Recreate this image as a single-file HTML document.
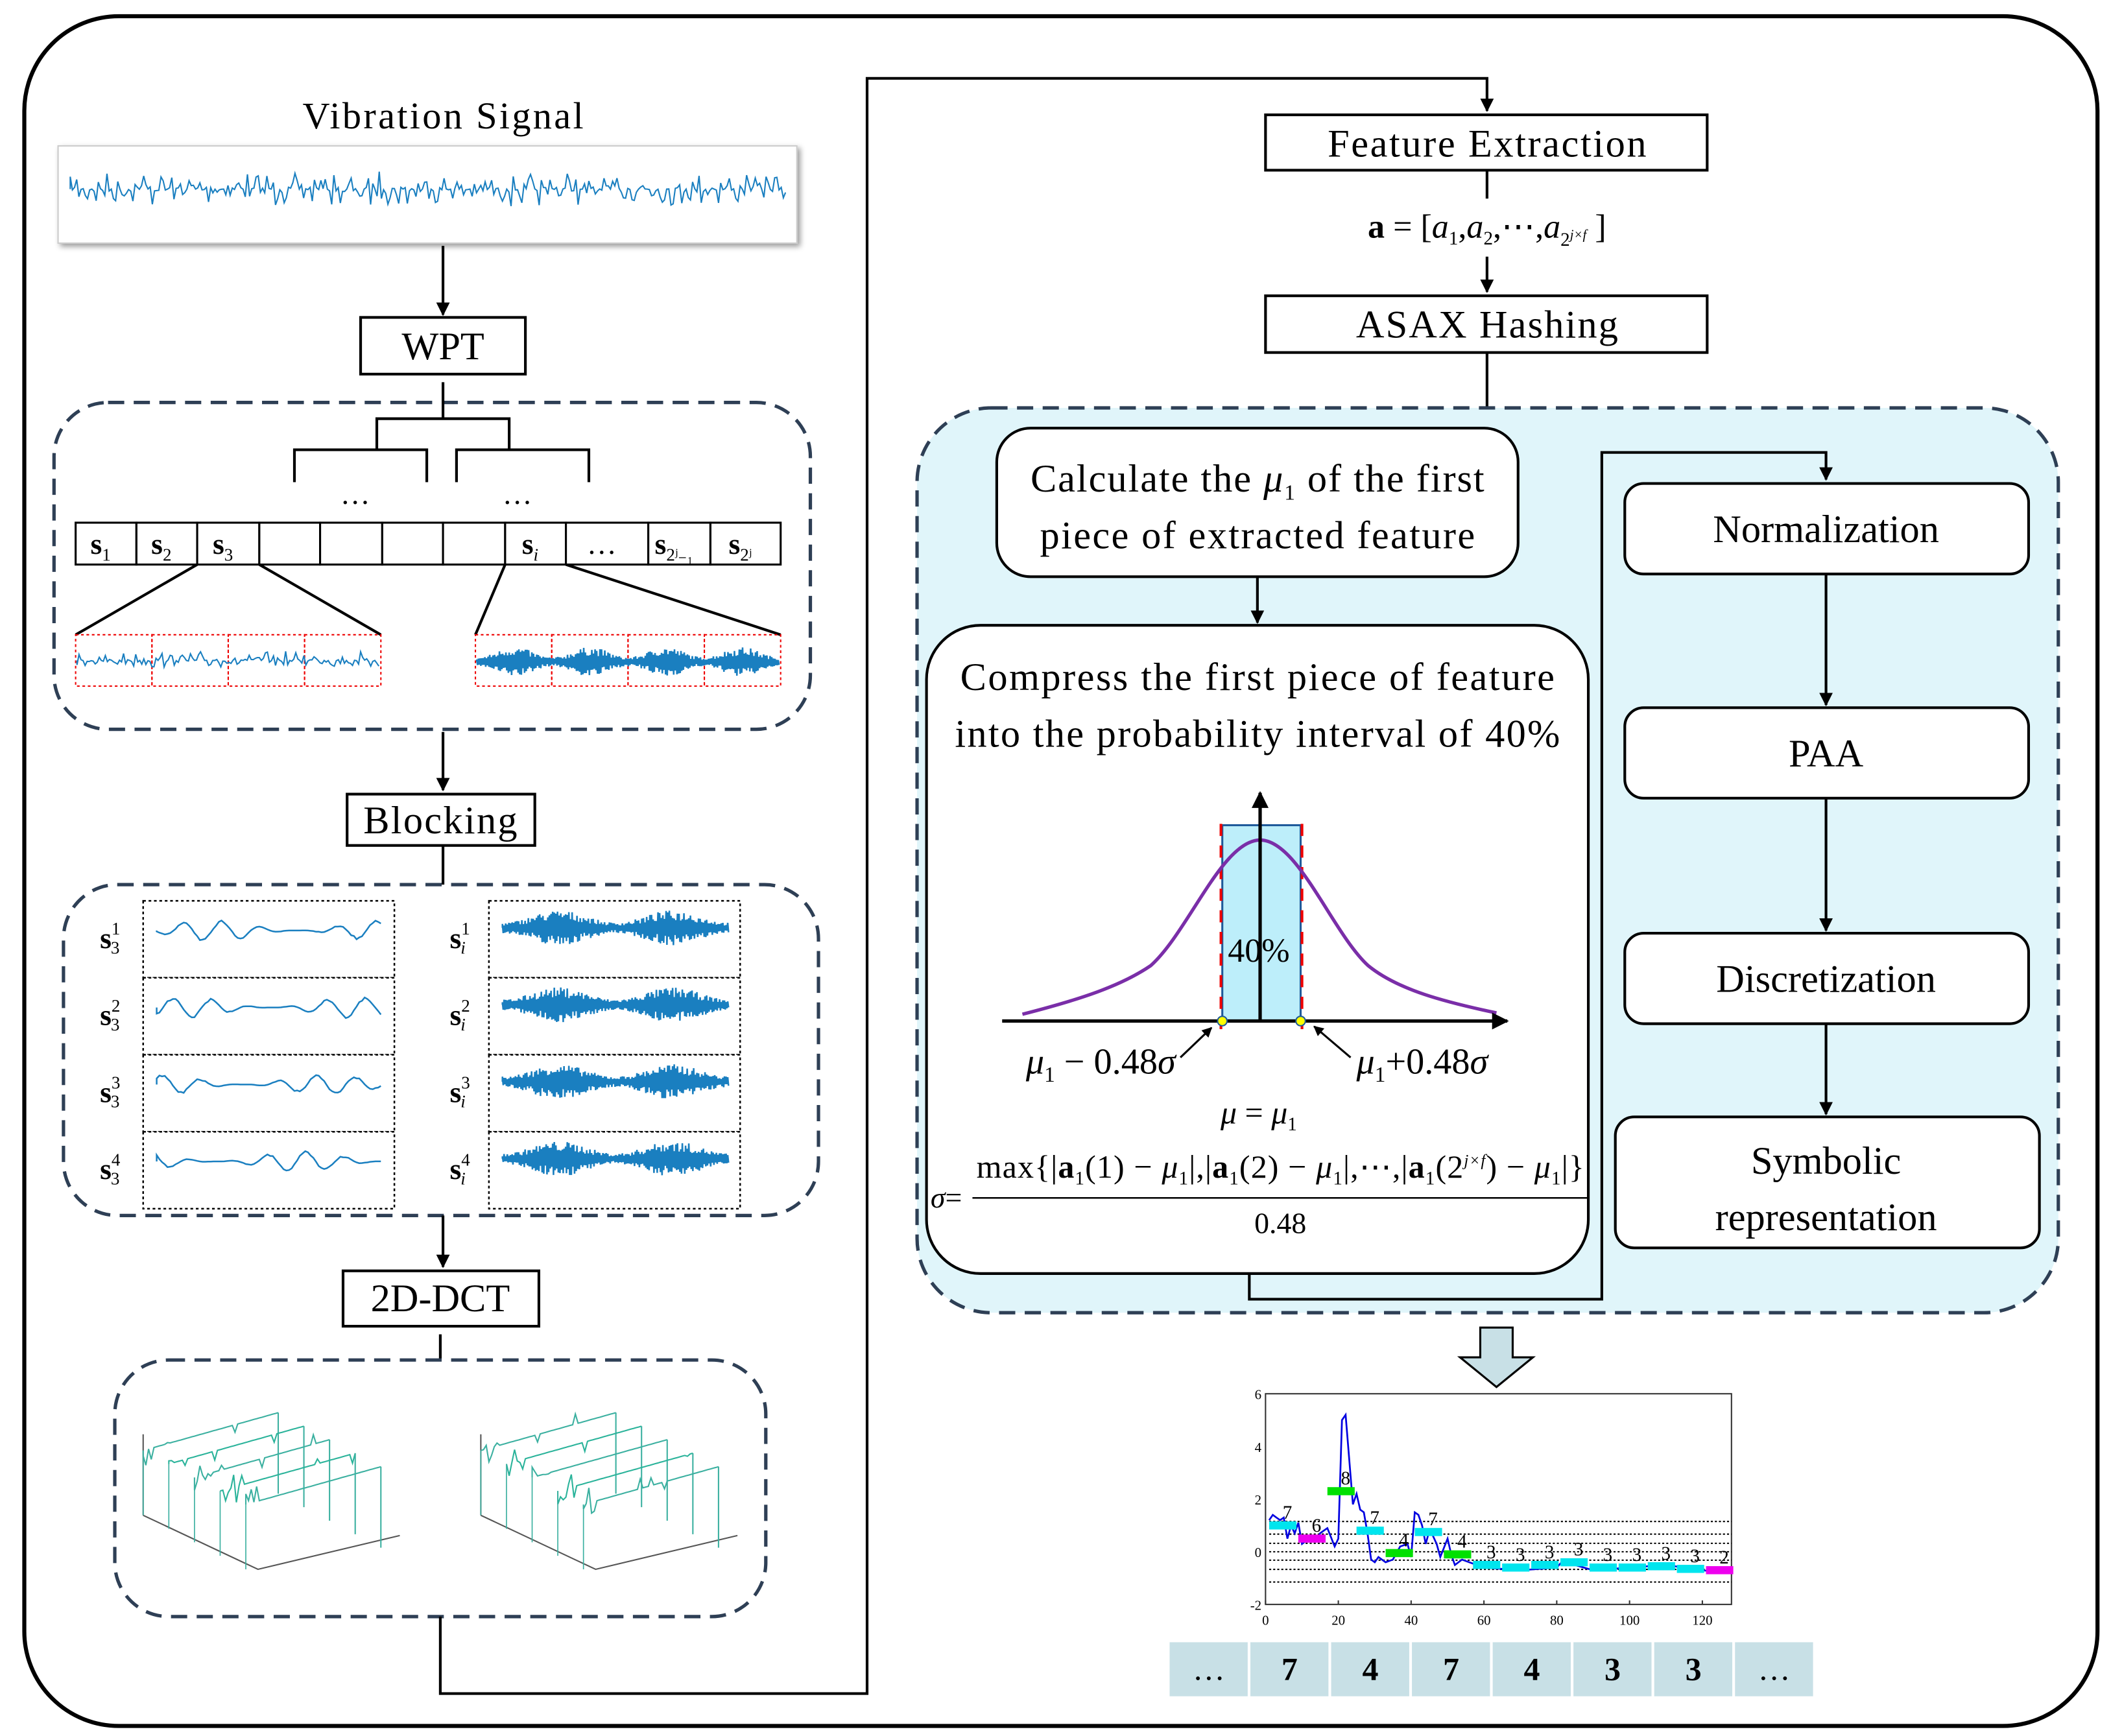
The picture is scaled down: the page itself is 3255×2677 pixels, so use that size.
<!DOCTYPE html>
<html><head><meta charset="utf-8"><style>
html,body{margin:0;padding:0;background:#fff}
svg{display:block}
text{font-family:"Liberation Serif",serif;fill:#000}
</style></head><body>
<svg id="s" xmlns="http://www.w3.org/2000/svg" width="3255" height="2677" viewBox="0 0 1563 1285.4">
<defs>
<marker id="ar" viewBox="0 0 10 10" refX="9" refY="5" markerWidth="5" markerHeight="5" orient="auto"><path d="M0,0L10,5L0,10z" fill="#000"/></marker>
<filter id="sh"><feDropShadow dx="2" dy="2" stdDeviation="2" flood-opacity="0.4"/></filter>
</defs>
<rect x="18" y="12" width="1535" height="1266" rx="70" fill="none" stroke="#000" stroke-width="3"/>
<text x="328" y="95" font-size="28" text-anchor="middle" textLength="208">Vibration Signal</text>
<rect x="43" y="108" width="547" height="72" fill="#fff" stroke="#ccc" filter="url(#sh)"/>
<g id="sig"></g>
<line x1="328" y1="182" x2="328" y2="233" stroke="#000" stroke-width="2" marker-end="url(#ar)"/>
<rect x="267" y="235" width="122" height="42" fill="#fff" stroke="#000" stroke-width="2"/>
<text x="328" y="266" font-size="29" text-anchor="middle">WPT</text>
<rect x="40" y="298" width="560" height="242" rx="40" fill="none" stroke="#2e3f55" stroke-width="2.5" stroke-dasharray="12,7"/>
<g stroke="#000" stroke-width="2" fill="none">
<path d="M328,283V310M279,333V310H377V333M218,357V333H316V357M338,357V333H436V357"/>
<path d="M146,418L56,470M192,418L282,470M374,418L352,470M419,418L578,470"/>
</g>
<text x="263" y="373" font-size="22" text-anchor="middle">…</text>
<text x="383" y="373" font-size="22" text-anchor="middle">…</text>
<g id="cells"></g>
<g id="wpt"></g>
<line x1="328" y1="542" x2="328" y2="585" stroke="#000" stroke-width="2" marker-end="url(#ar)"/>
<rect x="257" y="588" width="139" height="38" fill="#fff" stroke="#000" stroke-width="2"/>
<text x="326" y="617" font-size="29" text-anchor="middle" textLength="114">Blocking</text>
<line x1="328" y1="626" x2="328" y2="655" stroke="#000" stroke-width="2"/>
<rect x="47" y="655" width="559" height="245" rx="40" fill="none" stroke="#2e3f55" stroke-width="2.5" stroke-dasharray="12,7"/>
<g id="blk"></g>
<line x1="328" y1="900" x2="328" y2="938" stroke="#000" stroke-width="2" marker-end="url(#ar)"/>
<rect x="254" y="941" width="145" height="41" fill="#fff" stroke="#000" stroke-width="2"/>
<text x="326" y="971" font-size="29" text-anchor="middle">2D-DCT</text>
<line x1="326" y1="988" x2="326" y2="1007" stroke="#000" stroke-width="2"/>
<rect x="85" y="1007" width="482" height="190" rx="40" fill="none" stroke="#2e3f55" stroke-width="2.5" stroke-dasharray="12,7"/>
<g id="dct"></g>
<path d="M326,1197V1254H642V58H1101V82" fill="none" stroke="#000" stroke-width="2" marker-end="url(#ar)"/>
<rect x="937" y="85" width="327" height="41" fill="#fff" stroke="#000" stroke-width="2"/>
<text x="1101" y="116" font-size="29" text-anchor="middle" textLength="236">Feature Extraction</text>
<line x1="1101" y1="126" x2="1101" y2="147" stroke="#000" stroke-width="2"/>
<text x="1101" y="176" font-size="25" text-anchor="middle"><tspan font-weight="bold">a</tspan> = [<tspan font-style="italic">a</tspan><tspan font-size="14" dy="5">1</tspan><tspan dy="-5">,</tspan><tspan font-style="italic">a</tspan><tspan font-size="14" dy="5">2</tspan><tspan dy="-5">,⋯,</tspan><tspan font-style="italic">a</tspan><tspan font-size="14" dy="6">2</tspan><tspan font-size="10" dy="-5" font-style="italic">j×f</tspan><tspan dy="-1"> ]</tspan></text>
<line x1="1101" y1="190" x2="1101" y2="216" stroke="#000" stroke-width="2" marker-end="url(#ar)"/>
<rect x="937" y="219" width="327" height="42" fill="#fff" stroke="#000" stroke-width="2"/>
<text x="1101" y="250" font-size="29" text-anchor="middle" textLength="194">ASAX Hashing</text>
<line x1="1101" y1="261" x2="1101" y2="302" stroke="#000" stroke-width="2"/>
<rect x="679" y="302" width="845" height="670" rx="55" fill="#e0f5fa" stroke="#2e3f55" stroke-width="2.5" stroke-dasharray="12,7"/>
<rect x="738" y="317" width="386" height="110" rx="25" fill="#fff" stroke="#000" stroke-width="2"/>
<text x="931" y="364" font-size="29" text-anchor="middle" textLength="336">Calculate the <tspan font-style="italic">μ</tspan><tspan font-size="16" dy="6">1</tspan><tspan dy="-6"> of the first</tspan></text>
<text x="931" y="406" font-size="29" text-anchor="middle" textLength="322">piece of extracted feature</text>
<line x1="931" y1="427" x2="931" y2="461" stroke="#000" stroke-width="2" marker-end="url(#ar)"/>
<rect x="686" y="463" width="490" height="480" rx="40" fill="#fff" stroke="#000" stroke-width="2"/>
<text x="931" y="511" font-size="29" text-anchor="middle" textLength="440">Compress the first piece of feature</text>
<text x="931" y="553" font-size="29" text-anchor="middle" textLength="448">into the probability interval of 40%</text>
<rect x="905" y="611" width="58" height="145" fill="#bdeefa" stroke="#1f5a9a" stroke-width="1.5"/>
<line x1="904" y1="610" x2="904" y2="762" stroke="#e00" stroke-width="2" stroke-dasharray="9,7"/>
<line x1="964" y1="610" x2="964" y2="762" stroke="#e00" stroke-width="2" stroke-dasharray="9,7"/>
<path d="M757,751C800,740 830,730 852,715C880,690 905,622 933,622C961,622 986,690 1013,715C1035,733 1070,742 1108,750" fill="none" stroke="#7a2ea8" stroke-width="2.5"/>
<line x1="742" y1="756" x2="1116" y2="756" stroke="#000" stroke-width="2.5" marker-end="url(#ar)"/>
<line x1="933" y1="756" x2="933" y2="587" stroke="#000" stroke-width="2.5" marker-end="url(#ar)"/>
<text x="932" y="712" font-size="25" text-anchor="middle">40%</text>
<circle cx="905" cy="756" r="3.5" fill="#ff0" stroke="#1f5a9a"/>
<circle cx="963" cy="756" r="3.5" fill="#ff0" stroke="#1f5a9a"/>
<line x1="874" y1="783" x2="897" y2="761" stroke="#000" stroke-width="1.5" marker-end="url(#ar)"/>
<line x1="1000" y1="783" x2="973" y2="760" stroke="#000" stroke-width="1.5" marker-end="url(#ar)"/>
<text x="815" y="795" font-size="27" text-anchor="middle"><tspan font-style="italic">μ</tspan><tspan font-size="16" dy="6">1</tspan><tspan dy="-6"> − 0.48</tspan><tspan font-style="italic">σ</tspan></text>
<text x="1053" y="795" font-size="27" text-anchor="middle"><tspan font-style="italic">μ</tspan><tspan font-size="16" dy="6">1</tspan><tspan dy="-6">+0.48</tspan><tspan font-style="italic">σ</tspan></text>
<text x="932" y="832" font-size="24" text-anchor="middle"><tspan font-style="italic">μ</tspan> = <tspan font-style="italic">μ</tspan><tspan font-size="14" dy="5">1</tspan></text>
<text x="948" y="872" font-size="24" text-anchor="middle" textLength="450">max{|<tspan font-weight="bold">a</tspan><tspan font-size="14" dy="5">1</tspan><tspan dy="-5">(1) − </tspan><tspan font-style="italic">μ</tspan><tspan font-size="14" dy="5">1</tspan><tspan dy="-5">|,|</tspan><tspan font-weight="bold">a</tspan><tspan font-size="14" dy="5">1</tspan><tspan dy="-5">(2) − </tspan><tspan font-style="italic">μ</tspan><tspan font-size="14" dy="5">1</tspan><tspan dy="-5">|,⋯,|</tspan><tspan font-weight="bold">a</tspan><tspan font-size="14" dy="5">1</tspan><tspan dy="-5">(2</tspan><tspan font-size="12" dy="-9" font-style="italic">j×f</tspan><tspan dy="9">) − </tspan><tspan font-style="italic">μ</tspan><tspan font-size="14" dy="5">1</tspan><tspan dy="-5">|}</tspan></text>
<line x1="720" y1="887" x2="1176" y2="887" stroke="#000" stroke-width="1.2"/>
<text x="948" y="913" font-size="22" text-anchor="middle">0.48</text>
<text x="689" y="894" font-size="22"><tspan font-style="italic">σ</tspan>=</text>
<path d="M925,943V962H1186V335H1352V355" fill="none" stroke="#000" stroke-width="2" marker-end="url(#ar)"/>
<g id="rb"></g>
<path d="M1096,983H1120V1005H1135L1108,1027L1081,1005H1096Z" fill="#c8e0e6" stroke="#000" stroke-width="1.5"/>
<g id="chart"></g>
<g id="seq"></g>
</svg>
<script>
var NS="http://www.w3.org/2000/svg";
function el(p,t,a,txt){var e=document.createElementNS(NS,t);for(var k in a)e.setAttribute(k,a[k]);if(txt!=null)e.textContent=txt;document.getElementById(p).appendChild(e);return e;}
var seed=7;function r(){seed=(seed*16807)%2147483647;return seed/2147483647;}
function wave(x0,x1,yc,amp,step,burst){var d="M"+x0+","+yc;var sgn=1;for(var x=x0;x<=x1;x+=step){var a=amp;if(burst){var m=0.3+0.7*Math.pow(Math.abs(Math.sin((x-x0)/(x1-x0)*Math.PI*burst)),2);a*=m;sgn=-sgn;var y=yc+sgn*a*(0.4+0.6*r());}else{var y=yc+(r()*2-1)*a*(0.5+0.5*Math.sin(x*0.9));}d+="L"+x.toFixed(1)+","+y.toFixed(1);}return d;}
el("sig","path",{d:wave(52,582,140,14,1.6),fill:"none",stroke:"#1a7fc0","stroke-width":1});
var xs=[56,101,146,192,237,283,328,374,419,480,526,578];
for(var i=0;i<11;i++)el("cells","rect",{x:xs[i],y:387,width:xs[i+1]-xs[i],height:31,fill:"#fff",stroke:"#000","stroke-width":1.5});
var lab=[["s","1"],["s","2"],["s","3"],null,null,null,null,["s","i"],["…",""],["s","2ʲ₋₁"],["s","2ʲ"]];
for(var i=0;i<11;i++){if(!lab[i])continue;var cx=(xs[i]+xs[i+1])/2;var t=el("cells","text",{x:cx-4,y:410,"font-size":22,"text-anchor":"middle","font-weight":lab[i][1]?"bold":"normal"});t.textContent=lab[i][0];if(lab[i][1]){var ts=document.createElementNS(NS,"tspan");ts.setAttribute("font-size",13);ts.setAttribute("font-weight","normal");ts.setAttribute("dy",5);if(lab[i][1]=="i")ts.setAttribute("font-style","italic");ts.textContent=lab[i][1];t.appendChild(ts);}}
[[56,282,0],[352,578,3]].forEach(function(b){var w=(b[1]-b[0])/4;for(var k=0;k<4;k++)el("wpt","rect",{x:b[0]+k*w,y:470,width:w,height:38,fill:"none",stroke:"#e00","stroke-width":1,"stroke-dasharray":"2,2"});
el("wpt","path",{d:b[2]?wave(353,577,490,11,0.6,4):wave(57,281,489,7,1.5),fill:"none",stroke:"#1a7fc0","stroke-width":b[2]?1.2:1});});
function grid(x0,burst){for(var k=0;k<4;k++){el("blk","rect",{x:x0,y:667+k*57,width:186,height:57,fill:"#fff",stroke:"#000","stroke-width":1.2,"stroke-dasharray":"2,2"});
if(burst)el("blk","path",{d:wave(x0+10,x0+178,667+k*57+20,13,0.6,2),fill:"none",stroke:"#1a7fc0","stroke-width":1.2});
else{var d="M"+(x0+10)+","+(667+k*57+22);for(var x=x0+10;x<=x0+176;x+=2){d+="L"+x+","+(667+k*57+22+Math.sin(x*0.22+k*1.7)*(3+3*Math.sin(x*0.05+k))*(1+0.4*r())).toFixed(1);}el("blk","path",{d:d,fill:"none",stroke:"#1a7fc0","stroke-width":1.2});}}}
grid(106,false);grid(362,true);
for(var k=0;k<4;k++){var y=702+k*57;
var t=el("blk","text",{x:74,y:y,"font-size":22,"font-weight":"bold"},"s");var a=document.createElementNS(NS,"tspan");a.setAttribute("font-size",13);a.setAttribute("font-weight","normal");a.setAttribute("dy",-10);a.textContent=(k+1);t.appendChild(a);var b=document.createElementNS(NS,"tspan");b.setAttribute("font-size",13);b.setAttribute("font-weight","normal");b.setAttribute("dx",-7);b.setAttribute("dy",14);b.textContent="3";t.appendChild(b);
var t2=el("blk","text",{x:333,y:y,"font-size":22,"font-weight":"bold"},"s");var a2=document.createElementNS(NS,"tspan");a2.setAttribute("font-size",13);a2.setAttribute("font-weight","normal");a2.setAttribute("dy",-10);a2.textContent=(k+1);t2.appendChild(a2);var b2=document.createElementNS(NS,"tspan");b2.setAttribute("font-size",13);b2.setAttribute("font-weight","normal");b2.setAttribute("font-style","italic");b2.setAttribute("dx",-7);b2.setAttribute("dy",14);b2.textContent="i";t2.appendChild(b2);}
function dct(x0,y0){el("dct","path",{d:"M"+x0+","+(y0+60)+"L"+(x0+85)+","+(y0+100)+"L"+(x0+190)+","+(y0+75),fill:"none",stroke:"#555","stroke-width":1});
el("dct","path",{d:"M"+x0+","+y0+"V"+(y0+60),fill:"none",stroke:"#555","stroke-width":1});
for(var k=0;k<5;k++){var bx=x0+k*19,by=y0+12+k*10;var d="M"+bx+","+by;for(var s=0;s<=100;s+=2){var sp=(s<14&&r()<0.5)?(r()*2-1)*12:((r()<0.04)?(r()*2-1)*8:0);d+="L"+(bx+s).toFixed(1)+","+(by-s*0.28+sp).toFixed(1);}
el("dct","path",{d:d,fill:"none",stroke:k%2?"#2ab39a":"#3bb0a0","stroke-width":1});
el("dct","path",{d:"M"+(bx+100)+","+(by-28)+"V"+(by+32),fill:"none",stroke:"#3bb0a0","stroke-width":1});
el("dct","path",{d:"M"+bx+","+by+"V"+(by+48),fill:"none",stroke:"#3bb0a0","stroke-width":0.8});}}
dct(106,1062);dct(356,1062);
[[1203,358,299,67,"Normalization"],[1203,524,299,67,"PAA"],[1203,691,299,67,"Discretization"],[1196,827,314,97,""]].forEach(function(b){el("rb","rect",{x:b[0],y:b[1],width:b[2],height:b[3],rx:14,fill:"#fff",stroke:"#000","stroke-width":2});if(b[4])el("rb","text",{x:1352,y:b[1]+b[3]/2+10,"font-size":29,"text-anchor":"middle"},b[4]);});
el("rb","text",{x:1352,y:869,"font-size":29,"text-anchor":"middle"},"Symbolic");
el("rb","text",{x:1352,y:911,"font-size":29,"text-anchor":"middle"},"representation");
[[425,522],[591,689],[758,825]].forEach(function(a){el("rb","line",{x1:1352,y1:a[0],x2:1352,y2:a[1],stroke:"#000","stroke-width":2,"marker-end":"url(#ar)"});});
var X0=937,X1=1282,Y6=1032,Ym2=1188;function px(v){return X0+(X1-X0)*v/128;}function py(v){return Y6+(Ym2-Y6)*(6-v)/8;}
el("chart","rect",{x:X0,y:Y6,width:X1-X0,height:Ym2-Y6,fill:"#fff",stroke:"#333","stroke-width":1});
[1.15,0.67,0.32,0,-0.32,-0.67,-1.15].forEach(function(v){el("chart","line",{x1:px(1),x2:px(128),y1:py(v),y2:py(v),stroke:"#000","stroke-width":1,"stroke-dasharray":"1.5,1.5"});});
for(var v=-2;v<=6;v+=2){el("chart","text",{x:X0-3,y:py(v)+4,"font-size":10,"text-anchor":"end","font-family":"Liberation Sans"},v);}
for(var v=0;v<=120;v+=20){el("chart","text",{x:px(v),y:Ym2+15,"font-size":10,"text-anchor":"middle","font-family":"Liberation Sans"},v);el("chart","line",{x1:px(v),x2:px(v),y1:Ym2,y2:Ym2-3,stroke:"#333"});}
var pts=[[1,1.2],[2,1.4],[3,1.3],[4,1.2],[5,1.3],[6,0.5],[7,1.0],[8,0.7],[9,1.1],[10,0.3],[12,0.5],[14,0.4],[15,0.7],[16,0.8],[17,0.9],[19,0.2],[20,0.5],[21,5.0],[22,5.2],[23,3.5],[24,1.8],[25,2.2],[26,1.6],[27,1.5],[28,0.7],[29,-0.3],[30,-0.4],[31,-0.2],[33,-0.4],[35,-0.3],[37,0.2],[39,0.3],[40,-0.2],[41,1.5],[42,1.4],[43,1.0],[44,0.3],[45,0.8],[46,0.6],[47,0.3],[48,-0.2],[50,0.5],[51,-0.1],[52,-0.5],[54,-0.3],[56,-0.4],[60,-0.6],[70,-0.7],[80,-0.6],[82,-0.3],[85,-0.5],[90,-0.7],[100,-0.6],[110,-0.5],[120,-0.7],[127,-0.8]];
el("chart","path",{d:"M"+pts.map(function(p){return px(p[0]).toFixed(1)+","+py(p[1]).toFixed(1);}).join("L"),fill:"none",stroke:"#0000e0","stroke-width":1.3});
var seg=[[1,"#00e5ee","7"],[0.5,"#ee00ee","6"],[2.3,"#00e000","8"],[0.8,"#00e5ee","7"],[-0.05,"#00e000","4"],[0.75,"#00e5ee","7"],[-0.1,"#00e000","4"],[-0.5,"#00e5ee","3"],[-0.6,"#00e5ee","3"],[-0.5,"#00e5ee","3"],[-0.4,"#00e5ee","3"],[-0.6,"#00e5ee","3"],[-0.6,"#00e5ee","3"],[-0.55,"#00e5ee","3"],[-0.65,"#00e5ee","3"],[-0.7,"#ee00ee","2"]];
seg.forEach(function(s,i){var a=1+i*8;el("chart","rect",{x:px(a),y:py(s[0])-3,width:px(a+7.5)-px(a),height:6,fill:s[1]});el("chart","text",{x:px(a+5),y:py(s[0])-5,"font-size":14,"text-anchor":"middle","font-family":"Liberation Sans"},s[2]);});
var sq=["…","7","4","7","4","3","3","…"];
sq.forEach(function(s,i){var x=865+i*59.8;el("seq","rect",{x:x+1,y:1216,width:57.8,height:40,fill:"#c8e0e6"});el("seq","text",{x:x+30,y:1244,"font-size":24,"text-anchor":"middle","font-weight":s=="…"?"normal":"bold"},s);});
</script>
</body></html>
